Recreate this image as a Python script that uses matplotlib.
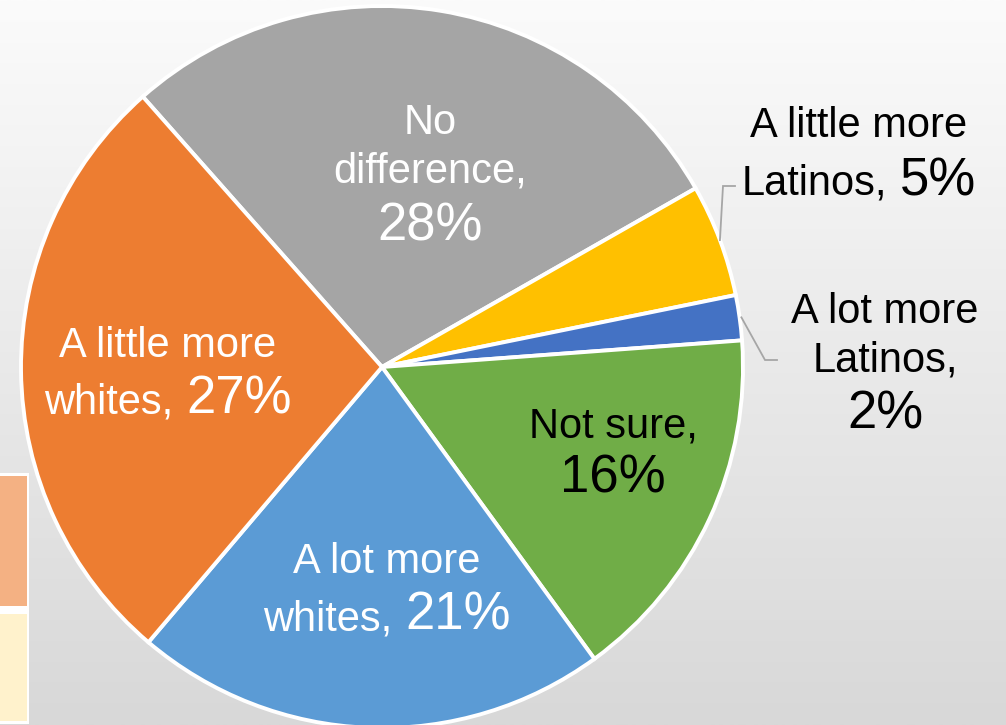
import numpy as np
import matplotlib
matplotlib.use('Agg')
import matplotlib.pyplot as plt
from matplotlib.patches import Rectangle

plt.rcParams['font.family'] = ['Liberation Sans', 'DejaVu Sans']

# slices, clockwise starting from the top-left
categories = ['No difference', 'A little more Latinos', 'A lot more Latinos',
              'Not sure', 'A lot more whites', 'A little more whites']
values = [28, 5, 2, 16, 21, 27]
colors = ['#A5A5A5', '#FFC000', '#4472C4', '#70AD47', '#5B9BD5', '#ED7D31']

# label text per slice: lines of (word part, percent part)
label_lines = [
    [('No', ''), ('difference,', ''), ('', '28%')],
    [('A little more', ''), ('Latinos,', '5%')],
    [('A lot more', ''), ('Latinos,', ''), ('', '2%')],
    [('Not sure,', ''), ('', '16%')],
    [('A lot more', ''), ('whites,', '21%')],
    [('A little more', ''), ('whites,', '27%')],
]
label_colors = ['white', 'black', 'black', 'black', 'white', 'white']

W, H = 1006, 725
CX, CY, R = 382, 367, 361   # pie centre and radius in pixels


def px(x, y):
    # pixel position -> data units of the pie axes
    return (x - CX) / R, (CY - y) / R


fig = plt.figure(figsize=(W / 100, H / 100), dpi=100)

# background gradient
bg = fig.add_axes([0, 0, 1, 1], zorder=0)
grad = np.linspace(251, 216, 256).reshape(-1, 1) / 255.0
bg.imshow(np.dstack([grad, grad, grad]), extent=[0, W, H, 0], aspect='auto')
bg.set_xlim(0, W)
bg.set_ylim(H, 0)
bg.axis('off')

# boxes peeking in at the left edge
bg.add_patch(Rectangle((-5, 473), 34, 251, facecolor='white', edgecolor='none'))
bg.add_patch(Rectangle((-5, 476), 32, 130, facecolor='#F4B183', edgecolor='none'))
bg.add_patch(Rectangle((-5, 614), 32, 107, facecolor='#FFF2CC', edgecolor='none'))

ax = fig.add_axes([0, 0, 1, 1], zorder=1)
ax.patch.set_visible(False)
wedges, _ = ax.pie(values, colors=colors, startangle=131.5, counterclock=False,
                   radius=1, wedgeprops=dict(edgecolor='white', linewidth=2.8))
ax.set_aspect('equal')
x0, y0 = px(0, 0)
x1, y1 = px(W, H)
ax.set_xlim(x0, x1)
ax.set_ylim(y1, y0)
ax.axis('off')

# leader lines for the two thin slices
def leader(wedge, r, knee, end):
    ang = np.deg2rad((wedge.theta1 + wedge.theta2) / 2)
    kx, ky = px(*knee)
    ex, ey = px(*end)
    ax.plot([r * np.cos(ang), kx, ex], [r * np.sin(ang), ky, ey],
            color='#A6A6A6', lw=1.3, solid_joinstyle='miter', zorder=3)

leader(wedges[1], 1.0, (723, 186), (735, 186))
leader(wedges[2], 1.005, (765, 360), (777, 360))

# label centres (x) and baselines (y) in pixels
label_pos = [
    (430, [134, 182, 240]),
    (859, [137, 195]),
    (885, [323, 371, 428]),
    (613, [437, 492]),
    (387, [573, 630]),
    (168, [357, 413]),
]
word_size, pct_size = 30, 38

fig.canvas.draw()
renderer = fig.canvas.get_renderer()

for lines, (cx, bases), col in zip(label_lines, label_pos, label_colors):
    for (word, pct), base in zip(lines, bases):
        parts = []
        if word:
            parts.append(ax.text(0, 0, word, fontsize=word_size, color=col,
                                 ha='left', va='baseline', zorder=4))
        if pct:
            parts.append(ax.text(0, 0, pct, fontsize=pct_size, color=col,
                                 ha='left', va='baseline', zorder=4))
        widths = [t.get_window_extent(renderer).width for t in parts]
        gap = 0.3 * word_size * 100 / 72 if len(parts) == 2 else 0
        total = sum(widths) + gap
        x = cx - total / 2
        for t, w in zip(parts, widths):
            t.set_position(px(x, base))
            x += w + gap

fig.savefig('out.png', dpi=100)
